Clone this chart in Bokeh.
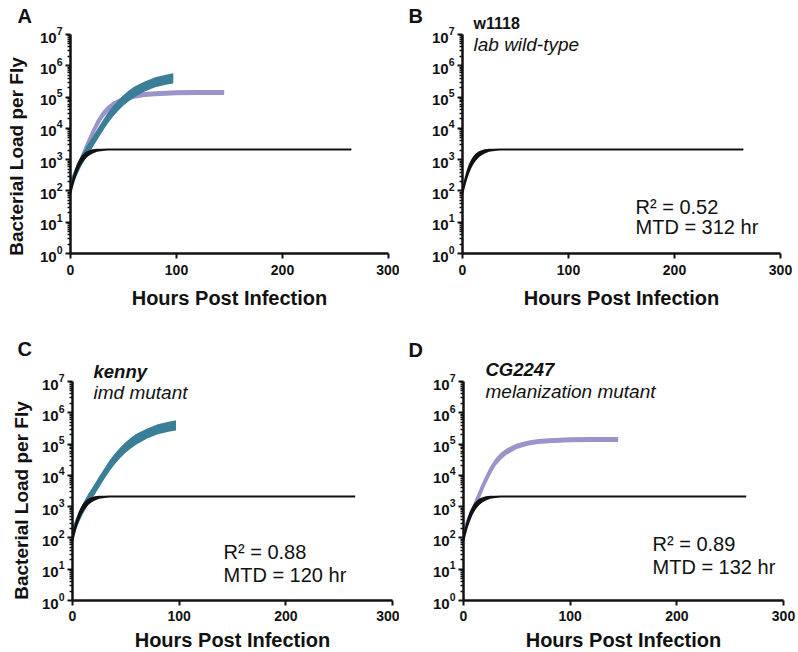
import math
import numpy as np
from bokeh.plotting import figure
from bokeh.models import Range1d, FixedTicker, Label, ColumnDataSource
from bokeh.layouts import column, row
from bokeh.embed import file_html
from bokeh.resources import INLINE

# ---------------- data (log10 of bacterial load per fly) ----------------
# w1118 (lab wild-type) fitted curve band
w1118_hours = [0, 2, 4, 6, 8, 10, 12, 15, 18, 21, 25, 30, 35, 40, 50, 265]
w1118_lower = [1.80, 2.08, 2.33, 2.54, 2.71, 2.84, 2.94, 3.06, 3.14, 3.20, 3.25, 3.28, 3.29, 3.29, 3.29, 3.29]
w1118_upper = [2.12, 2.42, 2.66, 2.85, 2.99, 3.10, 3.18, 3.26, 3.30, 3.33, 3.345, 3.35, 3.355, 3.355, 3.355, 3.355]

# kenny (imd mutant) fitted curve band
kenny_hours = [0, 5, 10, 15, 20, 25, 30, 35, 40, 45, 50, 55, 60, 70, 80, 90, 97]
kenny_lower = [2.02, 2.42, 2.78, 3.08, 3.34, 3.62, 3.89, 4.15, 4.37, 4.56, 4.73, 4.87, 4.99, 5.18, 5.31, 5.39, 5.43]
kenny_upper = [2.36, 2.76, 3.12, 3.42, 3.68, 3.96, 4.23, 4.49, 4.71, 4.90, 5.07, 5.21, 5.33, 5.50, 5.63, 5.71, 5.76]

# CG2247 (melanization mutant) fitted curve band
cg_hours = [0, 5, 10, 15, 20, 25, 30, 35, 40, 50, 60, 70, 80, 100, 120, 145]
cg_lower = [2.04, 2.44, 2.84, 3.24, 3.64, 4.00, 4.30, 4.50, 4.65, 4.84, 4.95, 5.00, 5.03, 5.06, 5.07, 5.07]
cg_upper = [2.36, 2.76, 3.16, 3.56, 3.94, 4.28, 4.54, 4.72, 4.85, 5.02, 5.11, 5.16, 5.19, 5.22, 5.23, 5.23]

x_ticks = [0, 100, 200, 300]
y_exponents = [0, 1, 2, 3, 4, 5, 6, 7]

panels = ["A", "B", "C", "D"]
genotype = [None, "w1118", "kenny", "CG2247"]
description = [None, "lab wild-type", "imd mutant", "melanization mutant"]
r2_text = [None, "R\u00b2 = 0.52", "R\u00b2 = 0.88", "R\u00b2 = 0.89"]
mtd_text = [None, "MTD = 312 hr", "MTD = 120 hr", "MTD = 132 hr"]
y_title = "Bacterial Load per Fly"
x_title = "Hours Post Infection"

# ---------------- styling ----------------
FONT = "Liberation Sans"
BLACK = "#111111"
TEAL = "#3b7e98"
PURPLE = "#9b94cb"

curves = {
    "w1118": (w1118_hours, w1118_lower, w1118_upper, BLACK),
    "kenny": (kenny_hours, kenny_lower, kenny_upper, TEAL),
    "CG2247": (cg_hours, cg_lower, cg_upper, PURPLE),
}

major_y = [10.0 ** e for e in y_exponents]
minor_y = [m * 10.0 ** e for e in y_exponents[:-1] for m in range(2, 10)]

AXIS_H = 219            # pixel height of the 10^0 .. 10^7 axis
DECADE = AXIS_H / 7.0


def make_panel(fw, fh, borders, contents, tick_standoff, xlab_standoff):
    left, right, bottom = borders
    top_exp = 7.0 + (fh - AXIS_H) / DECADE   # frame extends above 10^7 for the captions
    p = figure(frame_width=fw, frame_height=fh, y_axis_type="log",
               x_range=Range1d(0, 300), y_range=Range1d(1, 10 ** top_exp),
               output_backend="svg", toolbar_location=None,
               min_border_left=left, min_border_right=right,
               min_border_top=0, min_border_bottom=bottom,
               background_fill_color=None, border_fill_color=None,
               outline_line_color=None)
    p.grid.visible = False

    for name in contents:
        hrs, lo, hi, col = curves[name]
        src = ColumnDataSource(dict(x=hrs, lo=10 ** np.array(lo), hi=10 ** np.array(hi)))
        p.varea(x="x", y1="lo", y2="hi", source=src, fill_color=col)

    for ax in (p.xaxis[0], p.yaxis[0]):
        ax.axis_line_width = 2.5
        ax.axis_line_color = BLACK
        ax.major_tick_line_width = 2
        ax.major_tick_line_color = BLACK
        ax.major_tick_in = 0
        ax.major_tick_out = 5
        ax.major_label_text_font = FONT
        ax.major_label_text_font_style = "bold"
        ax.major_label_text_color = BLACK
        ax.axis_label_text_font = FONT
        ax.axis_label_text_font_style = "bold"
        ax.axis_label_text_font_size = "20px"
        ax.axis_label_text_color = BLACK

    p.xaxis.ticker = FixedTicker(ticks=x_ticks)
    p.xaxis.minor_tick_line_color = None
    p.xaxis.major_label_text_font_size = "14px"
    p.xaxis.major_label_standoff = tick_standoff
    p.xaxis.axis_label = x_title
    p.xaxis.axis_label_standoff = xlab_standoff

    p.yaxis.ticker = FixedTicker(ticks=major_y, minor_ticks=minor_y)
    p.yaxis.bounds = (1, 1e7)
    p.yaxis.major_label_text_font_size = "15px"
    p.yaxis.minor_tick_in = 0
    p.yaxis.minor_tick_out = 3
    p.yaxis.minor_tick_line_width = 1.3
    p.yaxis.minor_tick_line_color = BLACK
    p.yaxis.major_label_standoff = 3
    return p


def make_side(idx, w, h, letter_x, letter_y, ylabel_pos=None):
    s = figure(frame_width=w, frame_height=h, x_range=Range1d(0, w), y_range=Range1d(0, h),
               x_axis_type=None, y_axis_type=None, output_backend="svg",
               toolbar_location=None, min_border=0,
               min_border_left=0, min_border_right=0, min_border_top=0, min_border_bottom=0,
               background_fill_color=None, border_fill_color=None, outline_line_color=None)
    s.grid.visible = False
    s.add_layout(Label(x=letter_x, y=letter_y, text=panels[idx], text_font=FONT,
                       text_font_style="bold", text_font_size="20px", text_color=BLACK))
    if ylabel_pos is not None:
        s.add_layout(Label(x=ylabel_pos[0], y=ylabel_pos[1], text=y_title, angle=math.pi / 2,
                           text_align="center", text_baseline="middle", text_font=FONT,
                           text_font_style="bold", text_font_size="19px", text_color=BLACK))
    return s


def annotate(p, idx, gy, dy, gx, rx, ry, rdy, italic_name):
    p.add_layout(Label(x=gx, y=gy, x_units="screen", y_units="screen",
                       text=genotype[idx], text_font=FONT,
                       text_font_style="bold italic" if italic_name else "bold",
                       text_font_size="18.5px" if italic_name else "16px", text_color=BLACK))
    p.add_layout(Label(x=gx, y=gy - dy, x_units="screen", y_units="screen",
                       text=description[idx], text_font=FONT, text_font_style="italic",
                       text_font_size="19px", text_color=BLACK))
    p.add_layout(Label(x=rx, y=ry, x_units="screen", y_units="screen",
                       text=r2_text[idx], text_font=FONT,
                       text_font_size="20px", text_color=BLACK))
    p.add_layout(Label(x=rx, y=ry - rdy, x_units="screen", y_units="screen",
                       text=mtd_text[idx], text_font=FONT,
                       text_font_size="20px", text_color=BLACK))


# row 1: height 320, frame bottom at y=253
sA = make_side(0, 34, 320, 17, 294, (16, 320 - 156))
pA = make_panel(318, 253, (36, 11, 67), ["CG2247", "kenny", "w1118"], 6, 9)
sB = make_side(1, 28, 320, 9, 294)
pB = make_panel(318, 253, (35, 15, 67), ["w1118"], 6, 9)

# row 2: height 331, frame bottom at y=600 (row starts at 320)
sC = make_side(2, 34, 331, 17, 292, (21, 331 - 180))
pC = make_panel(320, 280, (38, 7, 51), ["kenny", "w1118"], 5, 5)
sD = make_side(3, 28, 331, 9, 291)
pD = make_panel(320, 280, (36, 12, 51), ["CG2247", "w1118"], 5, 5)

annotate(pB, 1, 222, 23, 11, 173, 36, 20, False)
annotate(pC, 2, 219, 21, 21, 151, 38, 23, True)
annotate(pD, 3, 221, 22, 22, 189, 46, 23, True)

layout = column(row(sA, pA, sB, pB), row(sC, pC, sD, pD))
open("out.html", "w").write(file_html(layout, INLINE))
